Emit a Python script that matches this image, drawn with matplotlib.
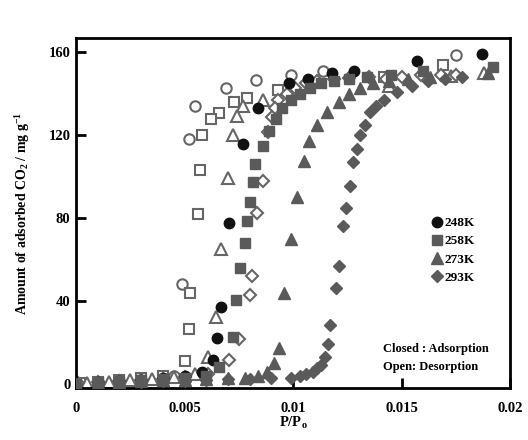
import matplotlib
matplotlib.use("Agg")
import matplotlib.pyplot as plt
from matplotlib.lines import Line2D

plt.rcParams['font.family'] = ['Liberation Serif', 'DejaVu Serif']
plt.rcParams['font.weight'] = 'bold'
plt.rcParams['mathtext.fontset'] = 'custom'
plt.rcParams['mathtext.rm'] = 'Liberation Serif:bold'
plt.rcParams['mathtext.it'] = 'Liberation Serif:bold'
plt.rcParams['mathtext.bf'] = 'Liberation Serif:bold'

# ---- data (P/P0, amount adsorbed mg/g) ----
ads248_x = [0, 0.001, 0.002, 0.003, 0.004, 0.005, 0.0058, 0.0063, 0.0065, 0.0067, 0.00705,
            0.0077, 0.0084, 0.0098, 0.0107, 0.0118, 0.0128, 0.0157, 0.0187]
ads248_y = [0, 1, 1.5, 2, 3, 4, 6, 11.6, 22, 37, 77.6, 116, 133, 145, 147, 150, 151, 156, 159]
des248_x = [0.0175, 0.0114, 0.0099, 0.0083, 0.0069, 0.0055, 0.0052, 0.0049, 0.0045, 0.003,
            0.002, 0.001, 0.0002]
des248_y = [158.6, 151, 149, 146.5, 142.6, 134, 118, 48, 4, 2, 1.5, 1, 0.5]

ads258_x = [0, 0.001, 0.002, 0.003, 0.004, 0.005, 0.006, 0.0066, 0.00725, 0.00737, 0.00756,
            0.0078, 0.00788, 0.008, 0.00816, 0.00825, 0.0086, 0.0089, 0.0092, 0.0095, 0.0099,
            0.0103, 0.0108, 0.0113, 0.0119, 0.0126, 0.0134, 0.0145, 0.016, 0.0192]
ads258_y = [0, 1, 1.5, 2, 2.5, 3, 4, 8, 22.8, 40.7, 56, 68, 78.6, 88, 97.5, 106, 115, 122,
            128, 133, 137, 140, 143, 145, 146, 147, 148, 149, 151, 153]
des258_x = [0.0169, 0.0142, 0.0093, 0.0079, 0.0073, 0.0066, 0.0062, 0.0058, 0.0057, 0.0056,
            0.00525, 0.0052, 0.005, 0.004, 0.003, 0.002, 0.001, 0.0002]
des258_y = [154, 148, 141.6, 138, 136, 130.5, 128, 120, 103, 82, 44, 26.7, 11, 4, 3, 2, 1, 0.5]

ads273_x = [0, 0.001, 0.002, 0.003, 0.004, 0.005, 0.006, 0.007, 0.0078, 0.0084, 0.0088,
            0.0091, 0.00935, 0.0096, 0.0099, 0.0102, 0.0105, 0.01074, 0.0111, 0.01156, 0.0121,
            0.0126, 0.0131, 0.0137, 0.0144, 0.0153, 0.0163, 0.019]
ads273_y = [0, 0.5, 1, 1.5, 2, 2, 2.5, 3, 3, 4, 6, 10, 17.5, 44, 70, 90, 107.7, 117, 125,
            131, 136, 140, 143, 145, 146, 147, 148, 150]
des273_x = [0.0188, 0.0173, 0.0144, 0.0086, 0.0077, 0.0074, 0.00725, 0.007, 0.0067, 0.00645,
            0.0061, 0.0055, 0.0045, 0.0035, 0.0025, 0.0015, 0.0005]
des273_y = [150, 148.4, 144, 137, 134, 129.5, 120, 99.4, 65, 32.5, 13, 5, 3.5, 2.5, 2, 1, 0.5]

ads293_x = [0, 0.001, 0.002, 0.003, 0.004, 0.005, 0.006, 0.007, 0.008, 0.009, 0.0099, 0.0103,
            0.0106, 0.0109, 0.0111, 0.0113, 0.01145, 0.0116, 0.0117, 0.0120, 0.01212, 0.0123,
            0.01244, 0.01263, 0.01277, 0.01295, 0.0131, 0.0133, 0.01355, 0.0138, 0.0142,
            0.0148, 0.0155, 0.0162, 0.017, 0.0178]
ads293_y = [0, 0.5, 0.8, 1, 1.2, 1.5, 2, 2.5, 2.5, 3, 3, 4, 5, 6, 7.5, 9, 13, 19.4, 28.6,
            46.5, 57, 76, 85, 95.6, 107, 113.5, 120, 125, 131, 134, 137, 141, 144, 146, 147, 148]
des293_x = [0.0175, 0.0168, 0.0159, 0.015, 0.0143, 0.0135, 0.0126, 0.0119, 0.0111, 0.0106,
            0.0101, 0.0097, 0.0093, 0.00917, 0.00903, 0.00885, 0.0086, 0.00834, 0.0081, 0.0080,
            0.0075, 0.00705, 0.0061, 0.005, 0.004, 0.003, 0.002, 0.001, 0.0001]
des293_y = [149, 149, 149, 148, 147, 148, 147.4, 147, 146, 145, 143, 140, 137, 133, 129,
            121.7, 98, 82.5, 52, 43, 21.8, 11.6, 5, 3.5, 2.5, 2, 1.5, 1, 0.5]

labels = ['248K', '258K', '273K', '293K']
colors = ['#111111', '#5a5a5a', '#5a5a5a', '#5a5a5a']
markers = ['o', 's', '^', 'D']
sizes = [7.5, 7.5, 8, 6.5]
ads = [(ads248_x, ads248_y), (ads258_x, ads258_y), (ads273_x, ads273_y), (ads293_x, ads293_y)]
des = [(des248_x, des248_y), (des258_x, des258_y), (des273_x, des273_y), (des293_x, des293_y)]

fig = plt.figure(figsize=(5.28, 4.4), dpi=100)
ax = fig.add_axes([0.144, 0.118, 0.822, 0.796])

for (x, y), c, m, s in zip(des, colors, markers, sizes):
    ax.plot(x, y, linestyle='none', marker=m, markersize=s, markerfacecolor='white',
            markeredgecolor='#666666', markeredgewidth=1.5, zorder=2)
for (x, y), c, m, s in zip(ads, colors, markers, sizes):
    ax.plot(x, y, linestyle='none', marker=m, markersize=s, color=c, markeredgecolor=c, zorder=3)

ax.set_xlim(0, 0.02)
ax.set_ylim(-2, 167)
ax.set_xticks([0, 0.005, 0.01, 0.015, 0.02])
ax.set_xticklabels(['0', '0.005', '0.01', '0.015', '0.02'])
ax.set_yticks([0, 40, 80, 120, 160])
ax.tick_params(axis='both', direction='in', width=2, length=7, labelsize=10.5)
ax.tick_params(axis='x', pad=10)
ax.tick_params(axis='y', pad=4)
for sp in ax.spines.values():
    sp.set_linewidth(2)
for lab in ax.get_xticklabels() + ax.get_yticklabels():
    lab.set_fontweight('bold')

ax.set_xlabel(r'P/P$_\mathregular{o}$', fontsize=10.5, fontweight='bold', labelpad=0)
ax.set_ylabel(r'Amount of adsorbed CO$_\mathregular{2}$ / mg g$^\mathregular{-1}$',
              fontsize=10, fontweight='bold', labelpad=12)

handles = [Line2D([], [], linestyle='none', marker=m, markersize=s, color=c)
           for c, m, s in zip(colors, markers, sizes)]
leg = ax.legend(handles, labels, loc='upper left', bbox_to_anchor=(0.795, 0.515),
                frameon=False, handletextpad=0.1, labelspacing=0.45, handlelength=1.0,
                borderpad=0.2,
                prop={'family': 'Liberation Serif', 'weight': 'bold', 'size': 9.5})

ax.text(0.707, 0.111, 'Closed : Adsorption', transform=ax.transAxes, fontsize=9,
        fontweight='bold', va='center')
ax.text(0.707, 0.06, 'Open: Desorption', transform=ax.transAxes, fontsize=9,
        fontweight='bold', va='center')

fig.savefig('out.png', dpi=100)
